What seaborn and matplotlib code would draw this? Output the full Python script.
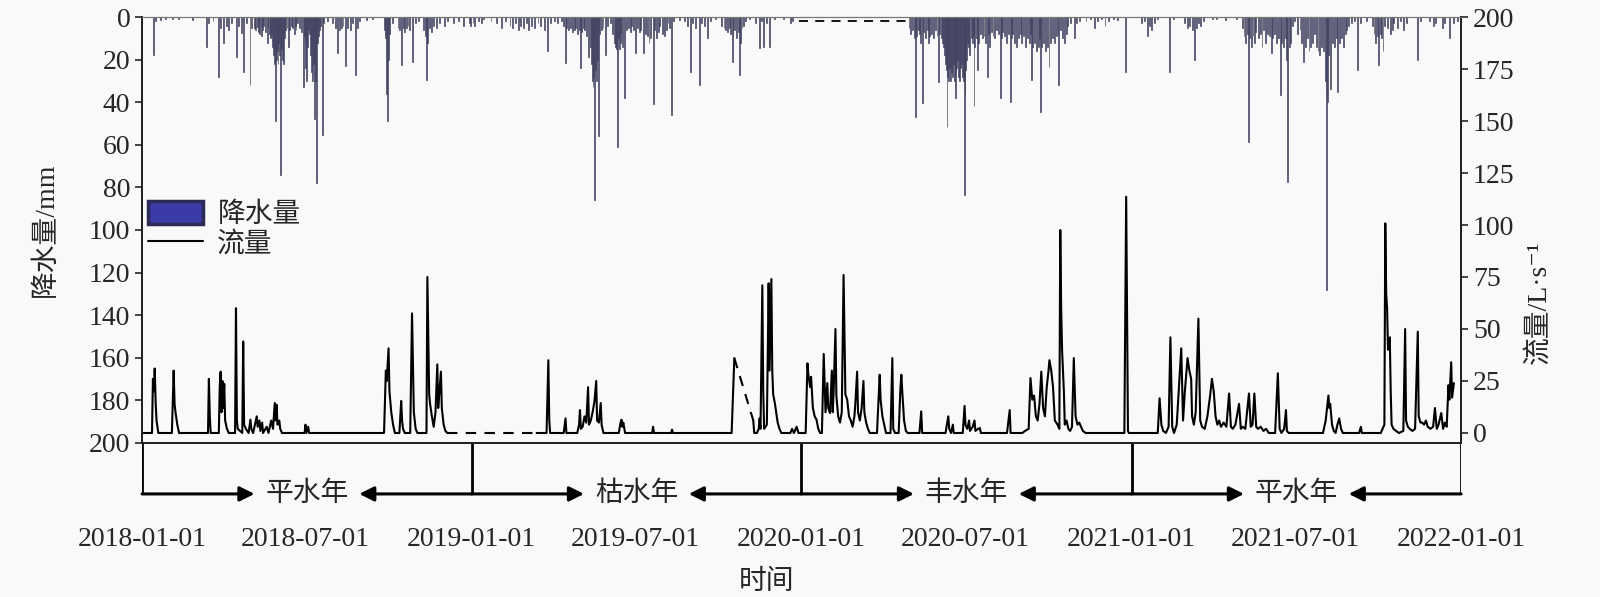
import numpy as np
import pandas as pd
import matplotlib
matplotlib.use("Agg")
import matplotlib.pyplot as plt
import matplotlib.dates as mdates
from matplotlib.patches import Patch
from matplotlib.lines import Line2D
import seaborn as sns

START = pd.Timestamp("2018-01-01")

# daily precipitation (mm), day = days since 2018-01-01
rain_day = [12, 14, 20, 25, 33, 40, 55,
            71, 73, 78, 84, 86, 90, 93, 95, 99, 104, 106, 110, 112, 115, 119, 121,
            124, 125, 127, 128, 129, 130, 132, 133, 134, 136, 138, 139, 141, 142, 143, 144,
            145, 146, 147, 148, 149, 150, 151, 152, 153, 154, 155, 156, 157, 158, 160, 162,
            163, 165, 166, 168, 169, 170, 172, 174, 176, 178, 179, 180, 181, 182, 183, 184,
            185, 186, 187, 188, 189, 190, 191, 192, 193, 194, 195, 196, 197, 199, 200,
            205, 210, 214, 216, 218, 220, 222, 225, 227, 230, 233, 236, 238, 240, 248, 255,
            268, 269, 270, 271, 272, 274, 277, 283, 285, 287, 289, 290, 292, 294, 296, 299,
            302, 306, 311, 313, 315, 316, 318, 320, 322, 326, 329, 334, 338, 344, 350, 356, 362,
            363, 366, 368, 372, 375, 378, 386, 392, 398, 402, 407, 410, 413, 416, 419, 422,
            425, 428, 431, 434, 438, 441, 445, 449, 452, 456, 460, 464, 466, 468, 470, 472,
            474, 476, 478, 480, 482, 484, 485, 486, 488, 490, 492, 494, 496, 497, 498, 499,
            500, 501, 502, 503, 504, 505, 506, 508, 510, 513, 515, 518, 521, 523, 524, 525,
            526, 527, 528, 529, 530, 532, 534, 536, 538, 540, 542, 544, 546, 548, 550, 552,
            555, 557, 559, 561, 563, 566, 567, 569, 571, 573, 576, 578, 580, 582, 584, 586,
            588, 595, 600, 604, 607, 609, 612, 617, 619, 622, 626, 629, 635, 641, 644, 646,
            648, 650, 651, 653, 654, 656, 658, 660, 661, 662, 664, 666, 668, 672, 679, 683,
            686, 688, 691, 694, 700, 710, 718, 720,
            849, 851, 853, 855, 856, 857, 859, 861, 862, 864, 865, 867, 869, 871, 872, 874,
            876, 878, 880, 882, 883, 885, 886, 887, 888, 889, 890, 891, 892, 893, 894, 895,
            896, 897, 898, 899, 900, 901, 902, 903, 904, 905, 906, 907, 908, 909, 910, 911,
            912, 913, 914, 915, 916, 918, 919, 920, 921, 922, 924, 925, 926, 928, 930, 932,
            934, 936, 937, 938, 940, 942, 944, 946, 948, 950, 951, 953, 955, 957, 959, 961,
            962, 964, 966, 968, 970, 972, 974, 976, 978, 980, 982, 984, 985, 986, 988, 990,
            992, 994, 995, 996, 998, 1000, 1002, 1004, 1006, 1008, 1010, 1012, 1014, 1015,
            1017, 1019, 1021, 1023, 1025, 1028, 1032, 1034, 1038, 1045, 1050, 1054, 1058,
            1062, 1066, 1070, 1075, 1080, 1089,
            1106, 1110, 1113, 1115, 1118, 1121, 1124, 1137, 1142, 1154, 1157, 1160, 1163,
            1165, 1167, 1170, 1172, 1175, 1185, 1190, 1200, 1212,
            1218, 1220, 1222, 1224, 1225, 1226, 1228, 1230, 1232, 1233, 1236, 1238, 1240,
            1242, 1244, 1246, 1248, 1250, 1252, 1254, 1256, 1258, 1260, 1262, 1264, 1266,
            1267, 1268, 1270, 1272, 1274, 1276, 1279, 1282, 1284, 1286, 1288, 1290, 1292,
            1294, 1296, 1298, 1300, 1302, 1304, 1306, 1308, 1310, 1311, 1312, 1314, 1316,
            1318, 1320, 1322, 1324, 1326, 1328, 1330, 1332, 1334, 1336, 1339, 1342, 1346,
            1349, 1356, 1362, 1364, 1366, 1368, 1369, 1371, 1372, 1374, 1376, 1379, 1382,
            1384, 1386, 1390, 1393, 1397, 1400, 1412, 1416, 1425, 1430, 1432, 1440, 1442,
            1448, 1452, 1456]
rain_mm = [17.8, 2, 1.5, 1, 1, 1, 1.5,
           14, 3, 2, 28, 5, 12, 4, 6, 3, 18.6, 4, 7.6, 25.6, 3, 32, 5,
           5, 6, 4.5, 7, 3, 8, 9, 6, 4, 7, 12.4, 5, 8, 10, 9, 14,
           18, 22, 49, 20, 16, 22, 12, 18, 74, 15, 20, 22, 10, 6, 5, 14,
           6, 4, 5, 8, 4, 6, 3, 5, 7, 33, 9, 12, 24, 30, 14, 6,
           8, 18, 26, 30, 22, 48, 28, 30, 78, 12, 9, 6, 4, 55.5, 3,
           2, 3, 5, 17, 6, 5, 4, 23, 5, 6, 3, 27, 5, 2, 1.5, 1,
           6, 10, 36, 49, 20, 8, 3, 5, 6, 22.5, 5, 7, 5, 4, 6, 21,
           3, 2, 6, 9, 29.6, 12, 5, 7, 4, 5, 3, 4, 2, 3, 2, 4, 3,
           4, 3, 4, 2, 3, 1, 2, 3, 5, 2, 4, 5, 3, 6, 4, 5,
           3, 6, 4, 5, 3, 4, 6, 16, 3, 2, 3, 2, 4, 21.7, 5, 6,
           5, 7, 6, 5, 8, 6, 24, 7, 5, 6, 9, 18.6, 14, 22, 30, 33,
           28, 86, 25, 30, 20, 56, 8, 6, 5, 18, 4, 3, 8, 12, 14, 15,
           61, 10, 15, 12, 8, 14, 38, 6, 5, 7, 4, 6, 17, 5, 7, 6,
           17, 8, 9, 12, 10, 41, 6, 10, 7, 4, 8, 9, 6, 3, 5, 46,
           2, 1.5, 2, 4, 25.6, 3, 5, 32, 3, 4, 10, 2, 1, 4, 5,
           6, 7, 5, 8, 21, 9, 6, 10, 7, 27, 12, 5, 4, 2, 1, 3,
           14.7, 2, 14, 3, 14, 1, 1, 3, 2,
           5, 8, 6, 10, 46.8, 9, 6, 8, 12, 40.5, 7, 10, 6, 12, 9, 8,
           10, 6, 9, 30.6, 8, 10, 12, 14, 18, 22, 25, 51.5, 28, 30, 24, 30,
           26, 28, 22, 30, 38, 26, 24, 20, 28, 30, 24, 22, 28, 30, 83.5, 36,
           25, 20, 12, 14, 18, 10, 12, 9, 42, 14, 10, 25, 12, 8, 10, 9,
           12, 28, 8, 14, 7, 9, 10, 6, 8, 38, 10, 7, 9, 12, 8, 39.8,
           10, 8, 12, 14, 10, 8, 12, 9, 14, 10, 12, 8, 29.6, 14, 12, 16,
           14, 10, 44.4, 14, 12, 16, 14, 23.3, 12, 10, 12, 9, 8, 31.9,
           6, 10, 12, 8, 4, 3, 10, 3, 2, 2, 1, 5, 2,
           1, 4, 2, 1, 1.5, 25.6,
           3, 2, 9, 4, 6, 3, 1, 25.6, 1, 3, 5, 4, 6,
           20, 5, 3, 4, 2, 1, 1, 1.5, 1,
           5, 9, 12, 8, 58.5, 10, 14, 9, 12, 7, 10, 8, 14,
           6, 12, 8, 9, 17, 10, 8, 12, 10, 36.6, 12, 14, 10,
           20, 77.3, 14, 12, 4, 2, 8, 6, 12, 21, 14, 10, 16,
           14, 12, 8, 14, 16, 18, 14, 16, 30, 128, 40, 18, 34,
           12, 14, 10, 35, 12, 10, 14, 8, 6, 4, 3, 2, 25,
           3, 2, 4, 8, 12, 9, 22.5, 8, 10, 16, 4, 5, 8,
           6, 3, 5, 2, 6, 3, 20, 2, 2, 4, 3, 5, 3,
           10, 3, 2]

# precipitation record missing (drawn dashed)
rain_gap_day = [728, 848]
rain_gap_mm = [2, 2]

# flow (L/s) vertices, day = days since 2018-01-01
flow_day = [0, 11, 12, 13, 14, 15, 16, 18, 33, 35, 36, 37, 39, 41, 73, 74, 75, 76,
            85, 86, 87, 88, 89, 90, 91, 92, 94, 96, 103, 104, 105, 106, 111, 112, 113, 115,
            118, 120, 121, 123, 125, 127, 128, 130, 131, 133, 134, 138, 140, 143, 145, 147,
            148, 149, 150, 152, 153, 155, 180, 181, 182, 184, 185,
            268, 270, 271, 273, 274, 276, 278, 280, 285, 287, 288, 289, 291, 297, 299, 301,
            303, 305, 315, 316, 318, 319, 321, 323, 325, 327, 328, 329, 331, 332, 334, 336, 338,
            437, 448, 450, 451, 452, 467, 469, 470, 482, 484, 485, 486, 488, 490, 492, 494,
            495, 497, 499, 501, 503, 504, 506, 508, 509, 511, 528, 530, 531, 532, 533, 535,
            565, 566, 567, 586, 587, 588, 653, 656,
            677, 678, 681, 683, 684, 685, 687, 688, 689, 692, 694, 695, 697, 698, 699, 701,
            702, 704, 706, 708, 718, 720, 722, 725, 727, 735, 737, 738, 740, 741, 743, 745,
            747, 749, 751, 753, 755, 757, 759, 760, 762, 764, 765, 766, 768, 769, 771, 773,
            775, 777, 779, 781, 783, 785, 787, 789, 790, 792, 793, 795, 797, 799, 800, 802,
            804, 806, 814, 817, 818, 820, 822, 824, 829, 831, 832, 834, 838, 840, 841, 842,
            844, 846, 848, 861, 863, 864, 890, 891, 893, 894, 896, 898, 899, 909, 911, 912,
            914, 916, 917, 920, 922, 923, 926, 928, 929, 958, 961, 962, 975, 978, 982, 984,
            986, 988, 990, 992, 994, 996, 998, 1000, 1002, 1004, 1005, 1007, 1009, 1011,
            1014, 1016, 1017, 1018, 1019, 1021, 1022, 1024, 1026, 1028, 1030, 1032, 1034,
            1036, 1038, 1040, 1042, 1045, 1088, 1090, 1092, 1093,
            1125, 1127, 1129, 1131, 1134, 1137, 1139, 1141, 1143, 1146, 1151, 1153, 1155,
            1158, 1160, 1162, 1163, 1165, 1167, 1170, 1172, 1174, 1177, 1180, 1183, 1185,
            1187, 1189, 1191, 1193, 1195, 1198, 1201, 1204, 1206, 1208, 1211, 1215, 1217,
            1219, 1222, 1226, 1228, 1230, 1232, 1234, 1236, 1239, 1242, 1245, 1248, 1255,
            1258, 1260, 1262, 1265, 1267, 1268, 1270, 1308, 1311, 1314, 1315, 1316, 1318,
            1320, 1322, 1324, 1326, 1328, 1330, 1348, 1350, 1351, 1372, 1374, 1376, 1377,
            1378, 1379, 1380, 1382, 1383, 1384, 1386, 1389, 1392, 1397, 1399, 1400, 1402,
            1404, 1407, 1410, 1413, 1414, 1416, 1418, 1420, 1422, 1424, 1427, 1430, 1432,
            1434, 1436, 1439, 1441, 1443, 1445, 1447, 1448, 1450, 1451, 1453]
flow_q = [0, 0, 26, 20, 31, 15, 6, 0, 0, 30, 14, 10, 4, 0, 0, 26, 8, 0,
          0, 22, 29.5, 10, 25, 12, 23.6, 6, 2, 0, 0, 60, 6, 2, 0, 44, 4, 2,
          0, 6.4, 2, 0, 4, 8, 3, 6, 1, 5, 0, 3, 0, 6, 2, 14.4,
          6, 13.6, 4, 6, 2, 0, 0, 4, 0, 3, 0,
          0, 30, 25, 40.7, 20, 10, 4, 0, 0, 15.4, 6, 2, 0, 0, 57.5, 10,
          2, 0, 0, 75, 18.6, 14, 8, 3, 10, 33, 12, 18, 29.5, 12, 4, 1, 0,
          0, 0, 35, 6, 0, 0, 7, 0, 0, 4, 11, 2, 3, 8, 5, 22,
          4, 6, 10, 15, 25, 6, 5, 14.4, 4, 0, 0, 5, 6.4, 3, 5, 0,
          0, 3, 0, 0, 1.6, 0, 0, 36,
          6, 0, 0, 2, 7, 2, 71, 20, 2, 4, 72, 30, 74, 30, 18.6, 14,
          11, 5, 2, 0, 0, 2, 0, 3, 0, 0, 33.5, 28, 22, 27, 12, 8,
          6.4, 2, 0, 0, 38, 10, 24, 12, 9.6, 30, 10, 20, 50, 18, 8, 5,
          10, 76, 18.6, 16, 8, 6, 3, 8, 14, 29.5, 10, 6, 12, 25, 10, 5,
          2, 0, 0, 28, 16, 8, 4, 0, 0, 36, 2, 0, 0, 22, 28, 20,
          6, 1, 0, 0, 10.4, 0, 0, 3, 8, 2, 0, 4, 0, 0, 13, 4,
          2, 6, 1, 3, 6, 1, 2, 2.4, 0, 0, 11, 0, 0, 1, 2, 26.4,
          16, 18, 8, 6, 14, 29.5, 12, 8, 22, 30, 35, 30, 22, 6,
          4, 2, 97.6, 60, 40, 20, 4, 6, 2, 1, 3, 36, 8,
          4, 5, 3, 1, 0, 0, 113.6, 1, 0,
          0, 16.7, 4, 1, 0, 3, 46, 3, 0, 4, 40.7, 6, 20,
          36, 30, 26, 8, 4, 10, 55, 6, 3, 2, 8, 18, 26,
          20, 8, 4, 6, 3, 5, 3, 19, 3, 2, 4, 14, 2,
          3, 2, 19, 3, 4, 19, 3, 2, 3, 1, 2, 0, 0,
          28.7, 2, 0, 2, 11, 1, 0, 0, 6, 18, 12, 14, 4,
          1, 0, 4, 7, 2, 0, 0, 3, 0, 0, 2, 4, 100.8,
          67, 60, 40, 46, 20, 4, 2, 1, 0, 1, 50, 6, 3,
          2, 1, 2, 48.7, 8, 5, 5, 4, 6, 3, 2, 3, 12,
          2, 4, 9.6, 2, 5, 3, 23, 16, 34, 17, 24]

# flow record missing (drawn dashed)
flow_gap_day = [338, 437, 656, 677]
flow_gap_q = [0, 0, 36, 6]
flow_gap_id = [0, 0, 1, 1]

year_types = ["平水年", "枯水年", "丰水年", "平水年"]
year_starts = ["2018-01-01", "2019-01-01", "2020-01-01", "2021-01-01", "2022-01-01"]
tick_dates = ["2018-01-01", "2018-07-01", "2019-01-01", "2019-07-01", "2020-01-01",
              "2020-07-01", "2021-01-01", "2021-07-01", "2022-01-01"]

sns.set_style("ticks")
plt.rcParams["font.family"] = ["Liberation Serif", "Noto Sans CJK SC", "DejaVu Sans"]
plt.rcParams["axes.unicode_minus"] = False
BG = "#f9f9f9"

rain = pd.DataFrame({"date": START + pd.to_timedelta(rain_day, unit="D"), "mm": rain_mm})
flow = pd.DataFrame({"date": START + pd.to_timedelta(flow_day, unit="D"), "q": flow_q})
flow["seg"] = np.searchsorted([437, 677], flow_day, side="right")
gap = pd.DataFrame({"date": START + pd.to_timedelta(flow_gap_day, unit="D"),
                    "q": flow_gap_q, "seg": flow_gap_id})

fig = plt.figure(figsize=(16, 5.97), dpi=100, facecolor=BG)
ax = fig.add_axes([0.0888, 0.258, 0.8244, 0.7135], facecolor=BG)
ann = fig.add_axes([0.0888, 0.1457, 0.8244, 0.1123], sharex=ax)
ann.patch.set_alpha(0)

bar_face = "#5a5ac2"
bar_edge = "#3a3a44"
ax.bar(rain["date"], rain["mm"], width=1.0, color=bar_face, edgecolor=bar_edge,
       linewidth=0.45, align="edge")
ax.plot(START + pd.to_timedelta(rain_gap_day, unit="D"), rain_gap_mm, ls=(0, (5, 4)),
        color="black", lw=1.3)
ax.set_ylim(200, 0)
ax.set_yticks(range(0, 201, 20))
ax.set_xlim(pd.Timestamp(year_starts[0]), pd.Timestamp(year_starts[-1]))
ax.set_ylabel("降水量/mm", fontsize=20)
ax.yaxis.set_label_coords(-0.063, 0.5)

ax2 = ax.twinx()
sns.lineplot(data=flow, x="date", y="q", units="seg", estimator=None, color="black",
             lw=1.5, ax=ax2)
sns.lineplot(data=gap, x="date", y="q", units="seg", estimator=None, color="black",
             lw=1.5, ls=(0, (5, 4)), ax=ax2)
ax2.set_ylim(-4.8, 200)
ax2.set_yticks(range(0, 201, 25))
ax2.set_ylabel("流量/L·s⁻¹", fontsize=20, rotation=90)
ax2.yaxis.set_label_coords(1.049, 0.33)
ax2.set_xlabel("")

for a in (ax, ax2):
    a.tick_params(axis="y", labelsize=20, direction="out", length=5, width=1.2)
    a.tick_params(axis="x", length=0, labelbottom=False)
    for s in ("left", "right", "bottom"):
        a.spines[s].set_linewidth(1.3)
        a.spines[s].set_color("#222222")
    a.spines["top"].set_linewidth(0.8)
    a.spines["top"].set_color("#777777")

handles = [Patch(facecolor="#3a3aa8", edgecolor="#2b2b55", linewidth=2.5),
           Line2D([], [], color="black", lw=1.5)]
ax2.legend(handles, ["降水量", "流量"], loc="upper left", bbox_to_anchor=(-0.004, 0.595),
           frameon=False, fontsize=20, handlelength=2.0, handleheight=0.9,
           labelspacing=0.1, borderaxespad=0, handletextpad=0.5)

# water-year annotation strip under the plot
ann.set_ylim(0, 1)
for s in ann.spines.values():
    s.set_visible(False)
ann.set_yticks([])
ann.set_xticks(pd.to_datetime(tick_dates))
ann.xaxis.set_major_formatter(mdates.DateFormatter("%Y-%m-%d"))
ann.tick_params(axis="x", length=0, labelsize=20, pad=12)
arrow_y = 0.24
starts = pd.to_datetime(year_starts)
for d in starts:
    ann.plot([d, d], [1, arrow_y], color="black", lw=2, solid_capstyle="butt")
for i, label in enumerate(year_types):
    a0, a1 = starts[i], starts[i + 1]
    mid = a0 + (a1 - a0) / 2
    half = pd.Timedelta(days=58)
    ann.text(mid, arrow_y, label, ha="center", va="center", fontsize=20)
    for src, dst in ((a0, mid - half), (a1, mid + half)):
        ann.annotate("", xy=(dst, arrow_y), xytext=(src, arrow_y),
                     arrowprops=dict(arrowstyle="-|>", color="black", lw=2.2,
                                     mutation_scale=22, shrinkA=0, shrinkB=0))

fig.text(0.479, 0.024, "时间", ha="center", va="center", fontsize=20)

fig.savefig("out.png", dpi=100, facecolor=BG)
